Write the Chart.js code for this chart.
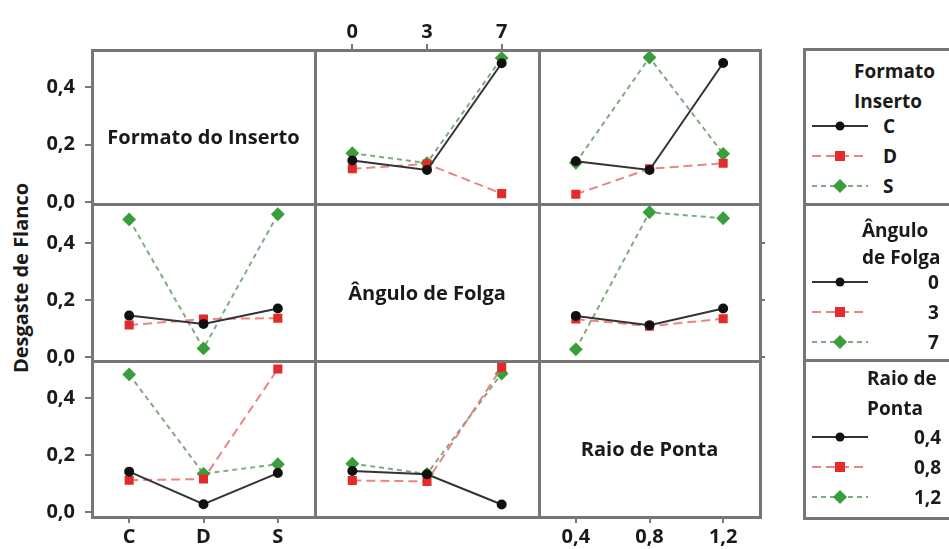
<!DOCTYPE html>
<html>
<head>
<meta charset="utf-8">
<script src="https://cdn.jsdelivr.net/npm/chart.js@4"></script>
<style>
  html, body { margin: 0; padding: 0; background: #fff; }
  body { width: 949px; height: 549px; position: relative; overflow: hidden; font-family: "Open Sans", Lato, sans-serif; color: #1a1a1a; }
  canvas { position: absolute; }
  .line { position: absolute; background: #767676; }
  .diag { position: absolute; font-weight: bold; font-size: 20px; white-space: nowrap; transform: translate(-50%, -50%); }
  .ytitle { position: absolute; left: 20px; top: 278px; font-weight: bold; font-size: 20px; white-space: nowrap; transform: translate(-50%, -50%) rotate(-90deg); }
  .lgbox { position: absolute; left: 803px; width: 170px; border: 3px solid #767676; box-sizing: border-box; }
  .lgtext { position: absolute; font-weight: bold; font-size: 19px; white-space: nowrap; transform: translateY(-50%); }
  .lgline { position: absolute; width: 56px; height: 2px; transform: translateY(-50%); }
  .mk { position: absolute; transform: translate(-50%, -50%); }
</style>
</head>
<body>
<div class="ytitle">Desgaste de Flanco</div>
<script>
// níveis dos fatores
const formatoLabels = ['C', 'D', 'S']
const anguloLabels = ['0', '3', '7']
const raioLabels = ['0,4', '0,8', '1,2']
const factorNames = ['Formato do Inserto', 'Ângulo de Folga', 'Raio de Ponta']
const legendTitles = [['Formato', 'Inserto'], ['Ângulo', 'de Folga'], ['Raio de', 'Ponta']]
const yTicks = [0, 0.2, 0.4]

// médias do desgaste de flanco: linhas = nível do 1º fator, colunas = nível do 2º fator
const formatoAngulo = [
  [0.145, 0.112, 0.482],  // C
  [0.116, 0.133, 0.030],  // D
  [0.170, 0.136, 0.500],  // S
]
const formatoRaio = [
  [0.142, 0.112, 0.483],
  [0.028, 0.116, 0.135],
  [0.137, 0.502, 0.168],
]
const anguloRaio = [
  [0.144, 0.111, 0.170],  // 0
  [0.133, 0.108, 0.134],  // 3
  [0.027, 0.507, 0.486],  // 7
]

const levels = [formatoLabels, anguloLabels, raioLabels]
const tables = { '0-1': formatoAngulo, '0-2': formatoRaio, '1-2': anguloRaio }

// layout da grade
const ROW_Y = [50, 204, 361, 517]
const COL_X = [92, 315, 539, 760]
const Y_RANGE = [[-0.006, 0.528], [-0.014, 0.536], [-0.017, 0.530]]

const STYLES = [
  { borderColor: '#333', borderWidth: 2, pointStyle: 'circle', pointRadius: 4, pointBackgroundColor: '#111', pointBorderColor: '#111' },
  { borderColor: 'rgba(232,110,110,0.85)', borderWidth: 2, borderDash: [9, 5], pointStyle: 'rect', pointRadius: 5, pointBackgroundColor: '#e32b2b', pointBorderColor: '#e32b2b' },
  { borderColor: 'rgba(105,155,105,0.85)', borderWidth: 2, borderDash: [5, 4], pointStyle: 'rectRot', pointRadius: 5.5, pointBackgroundColor: '#3a9e3a', pointBorderColor: '#3a9e3a' },
]
const TICK_FONT = { family: '"Open Sans", Lato, sans-serif', size: 20, weight: 'bold' }
const fmt = v => v.toFixed(1).replace('.', ',')

function seriesFor(row, col) {
  if (row === col) return []
  if (row < col) return tables[row + '-' + col]
  const t = tables[col + '-' + row]
  return t[0].map((_, k) => t.map(r => r[k]))
}

function noPad(s) {
  s.paddingTop = 0; s.paddingBottom = 0; s.paddingLeft = 0; s.paddingRight = 0
}

function panel(row, col) {
  const showY = col === 0
  const xPos = row === 2 && col !== 1 ? 'bottom' : (row === 0 && col === 1 ? 'top' : null)
  const rightTicks = row === 1 && col === 2
  const padL = showY ? 92 : 0
  const padT = xPos === 'top' ? 50 : 0
  const padB = xPos === 'bottom' ? 32 : 0
  const padR = rightTicks ? 8 : 0
  const extraB = showY && !xPos ? 14 : 0   // room for the "0,0" label below the row
  const w = COL_X[col + 1] - COL_X[col]
  const h = ROW_Y[row + 1] - ROW_Y[row]
  const cv = document.createElement('canvas')
  cv.width = w + padL + padR
  cv.height = h + padT + padB + extraB
  cv.style.left = (COL_X[col] - padL) + 'px'
  cv.style.top = (ROW_Y[row] - padT) + 'px'
  document.body.appendChild(cv)

  const [min, max] = Y_RANGE[row]
  const grid = { drawOnChartArea: false, color: '#777', lineWidth: 2 }
  const scales = {
    x: {
      type: 'category', offset: true, position: xPos || 'bottom', display: !!xPos,
      grid: { ...grid, tickLength: 6 }, border: { display: false },
      ticks: { font: TICK_FONT, color: '#1a1a1a', padding: xPos === 'top' ? 0 : 2, maxRotation: 0, autoSkip: false },
      afterFit: s => { s.height = padT || padB; noPad(s) },
    },
    y: {
      min, max, display: showY,
      afterBuildTicks: s => { s.ticks = yTicks.map(v => ({ value: v })) },
      grid: { ...grid, tickLength: 7 }, border: { display: false },
      ticks: { font: TICK_FONT, color: '#1a1a1a', padding: 10, callback: v => fmt(v) },
      afterFit: s => { s.width = padL; noPad(s) },
    },
  }
  if (rightTicks) {
    scales.yR = {
      min, max, position: 'right',
      afterBuildTicks: s => { s.ticks = yTicks.map(v => ({ value: v })) },
      grid: { ...grid, tickLength: 5 }, border: { display: false },
      ticks: { display: false },
      afterFit: s => { s.width = padR; noPad(s) },
    }
  }
  new Chart(cv, {
    type: 'line',
    data: {
      labels: levels[col],
      datasets: seriesFor(row, col).map((vals, k) => ({ data: vals, ...STYLES[k], fill: false, tension: 0 })),
    },
    options: {
      responsive: false, animation: false, events: [],
      layout: { padding: { top: 0, left: 0, right: 0, bottom: extraB }, autoPadding: false },
      plugins: { legend: { display: false }, tooltip: { enabled: false } },
      scales,
    },
  })
}

function addLine(x, y, w, h) {
  const d = document.createElement('div')
  d.className = 'line'
  Object.assign(d.style, { left: x + 'px', top: y + 'px', width: w + 'px', height: h + 'px' })
  document.body.appendChild(d)
}

function addText(cls, text, x, y) {
  const d = document.createElement('div')
  d.className = cls
  d.textContent = text
  d.style.left = x + 'px'
  d.style.top = y + 'px'
  document.body.appendChild(d)
  return d
}

// painéis
for (let r = 0; r < 3; r++) {
  for (let c = 0; c < 3; c++) {
    panel(r, c)
    if (r === c) addText('diag', factorNames[r], (COL_X[c] + COL_X[c + 1]) / 2, (ROW_Y[r] + ROW_Y[r + 1]) / 2 + 9)
  }
}

// bordas da grade
ROW_Y.forEach(y => addLine(COL_X[0] - 1.5, y - 1.5, COL_X[3] - COL_X[0] + 3, 3))
COL_X.forEach(x => addLine(x - 1.5, ROW_Y[0] - 1.5, 3, ROW_Y[3] - ROW_Y[0] + 3))

// legendas
const LG_TOP = [49, 204, 360, 518]
const LG_TITLE_X = [854, 862, 867]
const LG_TITLE_Y = [[71, 101], [230, 257], [378, 408]]
const LG_ENTRY_Y = [[126, 156, 186], [282, 312, 342], [437, 467, 497]]
const LG_LABEL_X = [[883, 883, 883], [928, 928, 928], [914, 914, 914]]
const LG_DASH = ['#333', 'repeating-linear-gradient(90deg, rgba(232,110,110,0.85) 0 9px, transparent 9px 14px)', 'repeating-linear-gradient(90deg, rgba(105,155,105,0.85) 0 5px, transparent 5px 9px)']

for (let b = 0; b < 3; b++) {
  const box = document.createElement('div')
  box.className = 'lgbox'
  box.style.top = (LG_TOP[b] - 1.5) + 'px'
  box.style.height = (LG_TOP[b + 1] - LG_TOP[b] + 3) + 'px'
  document.body.appendChild(box)
  legendTitles[b].forEach((t, i) => addText('lgtext', t, LG_TITLE_X[b], LG_TITLE_Y[b][i]))
  levels[b].forEach((lab, k) => {
    const y = LG_ENTRY_Y[b][k]
    const ln = document.createElement('div')
    ln.className = 'lgline'
    Object.assign(ln.style, { left: '812px', top: y + 'px', background: LG_DASH[k] })
    document.body.appendChild(ln)
    const mk = document.createElement('div')
    mk.className = 'mk'
    const size = k === 0 ? 9 : 10
    Object.assign(mk.style, { left: '840px', top: y + 'px', width: size + 'px', height: size + 'px', background: STYLES[k].pointBackgroundColor })
    if (k === 0) mk.style.borderRadius = '50%'
    if (k === 2) mk.style.transform = 'translate(-50%, -50%) rotate(45deg)'
    document.body.appendChild(mk)
    addText('lgtext', lab, LG_LABEL_X[b][k], y)
  })
}
</script>
</body>
</html>
